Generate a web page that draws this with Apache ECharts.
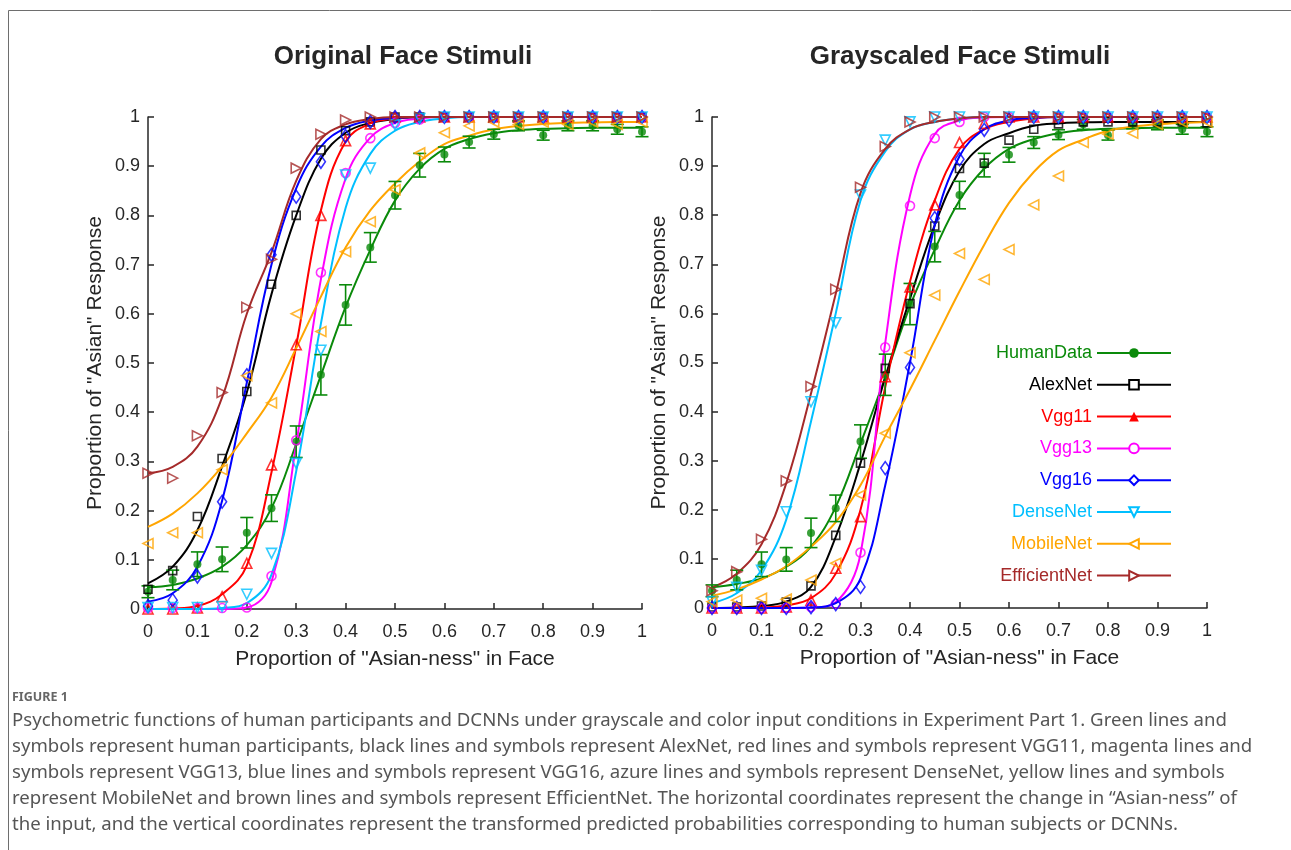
<!DOCTYPE html>
<html>
<head>
<meta charset="utf-8">
<script src="https://cdn.jsdelivr.net/npm/echarts@6/dist/echarts.min.js"></script>
<style>
html,body{margin:0;padding:0;background:#fff;}
#chart{width:1291px;height:850px;}
</style>
</head>
<body>
<div id="chart"></div>
<script>
// ---------- DATA ----------
const xs = [0,0.05,0.1,0.15,0.2,0.25,0.3,0.35,0.4,0.45,0.5,0.55,0.6,0.65,0.7,0.75,0.8,0.85,0.9,0.95,1];
const panelTitles = ['Original Face Stimuli', 'Grayscaled Face Stimuli'];
const modelNames = ['HumanData','AlexNet','Vgg11','Vgg13','Vgg16','DenseNet','MobileNet','EfficientNet'];

const humanL     = [0.035,0.059,0.091,0.101,0.155,0.205,0.34,0.476,0.618,0.735,0.841,0.902,0.924,0.949,0.965,0.982,0.963,0.982,0.982,0.975,0.97];
const humanErrL  = [0.012,0.02,0.025,0.025,0.031,0.027,0.032,0.041,0.041,0.03,0.028,0.024,0.015,0.012,0.01,0.01,0.01,0.01,0.01,0.01,0.01];
const humanFitL  = [0.044,0.049,0.062,0.086,0.13,0.205,0.335,0.475,0.614,0.73,0.83,0.895,0.935,0.955,0.967,0.973,0.976,0.977,0.978,0.978,0.978];
const alexL      = [0.04,0.078,0.188,0.306,0.442,0.66,0.80,0.933,0.972,0.99,1,1,1,1,1,1,1,1,1,1,1];
const alexFitL   = [0.052,0.086,0.16,0.29,0.44,0.64,0.80,0.915,0.968,0.988,0.996,1,1,1,1,1,1,1,1,1,1];
const vgg11L     = [0,0,0.002,0.025,0.093,0.293,0.537,0.80,0.952,0.986,1,1,1,1,1,1,1,1,1,1,1];
const vgg11FitL  = [0,0.001,0.006,0.03,0.088,0.278,0.535,0.81,0.95,0.987,0.997,1,1,1,1,1,1,1,1,1,1];
const vgg13L     = [0.002,0.002,0.002,0.002,0.003,0.067,0.343,0.684,0.886,0.957,0.988,0.995,1,1,1,1,1,1,1,1,1];
const vgg13FitL  = [0,0,0,0,0.003,0.055,0.335,0.67,0.875,0.958,0.988,0.997,1,1,1,1,1,1,1,1,1];
const vgg16L     = [0.006,0.018,0.066,0.218,0.475,0.72,0.838,0.909,0.961,0.99,1,1,1,1,1,1,1,1,1,1,1];
const vgg16FitL  = [0.015,0.032,0.086,0.22,0.46,0.70,0.855,0.94,0.978,0.993,0.998,1,1,1,1,1,1,1,1,1,1];
const denseL     = [0.003,0.003,0.003,0.005,0.03,0.113,0.296,0.526,0.882,0.896,0.984,0.997,1,1,1,1,1,1,1,1,1];
const denseFitL  = [0,0,0,0.002,0.012,0.07,0.28,0.58,0.815,0.925,0.972,0.99,0.997,1,1,1,1,1,1,1,1];
const mobileL    = [0.133,0.155,0.155,0.283,0.474,0.419,0.60,0.564,0.726,0.787,0.852,0.927,0.968,0.982,0.99,0.985,0.99,0.985,0.99,0.985,0.99];
const mobileFitL = [0.167,0.194,0.235,0.29,0.357,0.43,0.53,0.635,0.735,0.81,0.865,0.91,0.945,0.962,0.975,0.982,0.986,0.988,0.989,0.99,0.99];
const effL       = [0.276,0.266,0.352,0.44,0.613,0.711,0.896,0.965,0.994,1,1,1,1,1,1,1,1,1,1,1,1];
const effFitL    = [0.276,0.289,0.33,0.43,0.60,0.725,0.87,0.955,0.985,0.996,1,1,1,1,1,1,1,1,1,1,1];

// Right panel: Grayscaled face stimuli
const humanR     = [0.035,0.057,0.089,0.099,0.153,0.203,0.339,0.475,0.619,0.736,0.841,0.902,0.923,0.948,0.964,0.985,0.963,0.986,0.984,0.975,0.97];
const humanErrR  = [0.012,0.02,0.025,0.024,0.03,0.027,0.034,0.042,0.042,0.031,0.028,0.024,0.015,0.012,0.01,0.01,0.01,0.01,0.01,0.01,0.01];
const humanFitR  = [0.042,0.049,0.06,0.084,0.125,0.206,0.335,0.47,0.615,0.73,0.83,0.895,0.935,0.955,0.967,0.973,0.976,0.977,0.978,0.978,0.978];
const alexR      = [0.002,0.002,0.004,0.012,0.045,0.148,0.295,0.488,0.62,0.778,0.895,0.906,0.953,0.975,0.986,0.99,0.99,0.99,0.99,0.99,0.988];
const alexFitR   = [0,0.001,0.004,0.013,0.043,0.145,0.295,0.47,0.63,0.78,0.89,0.945,0.967,0.982,0.987,0.989,0.99,0.99,0.99,0.99,0.99];
const vgg11R     = [0,0,0,0.002,0.016,0.081,0.186,0.471,0.654,0.821,0.948,0.987,1,1,1,1,1,1,1,1,1];
const vgg11FitR  = [0,0,0.001,0.005,0.02,0.07,0.2,0.45,0.665,0.83,0.935,0.975,0.99,0.997,1,1,1,1,1,1,1];
const vgg13R     = [0,0,0,0,0.002,0.008,0.113,0.531,0.819,0.957,0.99,1,1,1,1,1,1,1,1,1,1];
const vgg13FitR  = [0,0,0,0,0.001,0.012,0.11,0.54,0.84,0.965,0.993,0.999,1,1,1,1,1,1,1,1,1];
const vgg16R     = [0,0,0,0,0.002,0.008,0.043,0.285,0.49,0.794,0.914,0.974,0.994,1,1,1,1,1,1,1,1];
const vgg16FitR  = [0,0,0,0,0.001,0.01,0.06,0.25,0.5,0.78,0.92,0.975,0.993,0.998,1,1,1,1,1,1,1];
const denseR     = [0.013,0.042,0.077,0.196,0.42,0.581,0.841,0.953,0.99,1,1,1,1,1,1,1,1,1,1,1,1];
const denseFitR  = [0.01,0.03,0.077,0.18,0.38,0.60,0.83,0.93,0.975,0.99,0.997,1,1,1,1,1,1,1,1,1,1];
const mobileR    = [0.013,0.016,0.02,0.018,0.057,0.091,0.23,0.356,0.52,0.637,0.722,0.669,0.73,0.821,0.88,0.948,0.965,0.967,0.985,0.99,0.99];
const mobileFitR = [0.025,0.038,0.058,0.085,0.125,0.175,0.25,0.35,0.445,0.545,0.645,0.74,0.825,0.888,0.932,0.954,0.972,0.98,0.985,0.988,0.99];
const effR       = [0.035,0.074,0.14,0.259,0.451,0.649,0.857,0.94,0.99,1,1,1,1,1,1,1,1,1,1,1,1];
const effFitR    = [0.042,0.07,0.13,0.254,0.437,0.64,0.845,0.935,0.975,0.99,0.997,1,1,1,1,1,1,1,1,1,1];

const captionHead = 'FIGURE 1';
const captionLines = [
  'Psychometric functions of human participants and DCNNs under grayscale and color input conditions in Experiment Part 1. Green lines and',
  'symbols represent human participants, black lines and symbols represent AlexNet, red lines and symbols represent VGG11, magenta lines and',
  'symbols represent VGG13, blue lines and symbols represent VGG16, azure lines and symbols represent DenseNet, yellow lines and symbols',
  'represent MobileNet and brown lines and symbols represent EfficientNet. The horizontal coordinates represent the change in \u201cAsian-ness\u201d of',
  'the input, and the vertical coordinates represent the transformed predicted probabilities corresponding to human subjects or DCNNs.'
];

// ---------- STYLE ----------
const FONT = 'Liberation Sans, Arial, Helvetica, sans-serif';
const CAPFONT = '"Noto Sans", "Open Sans", sans-serif';
const AX = '#262626';
const styles = {
  HumanData:    {color:'#0a8a0a', sym:'circle',   legSym:'circle',        rot:0,   size:8,  filled:true},
  AlexNet:      {color:'#000000', sym:'rect',     legSym:'emptyRect',     rot:0,   size:8},
  Vgg11:        {color:'#ff0000', sym:'triangle', legSym:'triangle',      rot:0,   size:10},
  Vgg13:        {color:'#ff00ff', sym:'circle',   legSym:'emptyCircle',   rot:0,   size:9},
  Vgg16:        {color:'#0000ff', sym:'diamond',  legSym:'emptyDiamond',  rot:0,   size:[9,13]},
  DenseNet:     {color:'#00bfff', sym:'triangle', legSym:'emptyTriangle', rot:180, size:10},
  MobileNet:    {color:'#ffa500', sym:'triangle', legSym:'emptyTriangle', rot:90,  size:10},
  EfficientNet: {color:'#a52a2a', sym:'triangle', legSym:'emptyTriangle', rot:-90, size:10}
};
const panels = [
  {HumanData:[humanL,humanFitL], AlexNet:[alexL,alexFitL], Vgg11:[vgg11L,vgg11FitL], Vgg13:[vgg13L,vgg13FitL],
   Vgg16:[vgg16L,vgg16FitL], DenseNet:[denseL,denseFitL], MobileNet:[mobileL,mobileFitL], EfficientNet:[effL,effFitL], err:humanErrL},
  {HumanData:[humanR,humanFitR], AlexNet:[alexR,alexFitR], Vgg11:[vgg11R,vgg11FitR], Vgg13:[vgg13R,vgg13FitR],
   Vgg16:[vgg16R,vgg16FitR], DenseNet:[denseR,denseFitR], MobileNet:[mobileR,mobileFitR], EfficientNet:[effR,effFitR], err:humanErrR}
];

const series = [];
modelNames.forEach(function(name){
  const st = styles[name];
  panels.forEach(function(p, pi){
    const pts = p[name][0], fit = p[name][1];
    series.push({
      name: name, type:'line', xAxisIndex:pi, yAxisIndex:pi,
      data: xs.map(function(x,i){return [x, fit[i]];}),
      smooth:0.4, showSymbol:false,
      symbol: st.legSym, symbolRotate: st.rot,
      lineStyle:{color:st.color, width:2}, itemStyle:{color:st.color},
      clip:false, silent:true, z:2
    });
    if (name === 'HumanData') {
      const err = p.err;
      series.push({
        name:'HumanData error', type:'custom', xAxisIndex:pi, yAxisIndex:pi,
        data: xs.map(function(x,i){return [x, pts[i]-err[i], pts[i]+err[i]];}),
        encode:{x:0, y:[1,2]}, silent:true, z:3, clip:false,
        renderItem: function(params, api){
          const a = api.coord([api.value(0), api.value(1)]);
          const b = api.coord([api.value(0), api.value(2)]);
          const w = 6.5;
          const s = {stroke:st.color, lineWidth:1.6};
          return {type:'group', children:[
            {type:'line', shape:{x1:a[0],y1:a[1],x2:b[0],y2:b[1]}, style:s},
            {type:'line', shape:{x1:a[0]-w,y1:a[1],x2:a[0]+w,y2:a[1]}, style:s},
            {type:'line', shape:{x1:b[0]-w,y1:b[1],x2:b[0]+w,y2:b[1]}, style:s}
          ]};
        }
      });
    }
    series.push({
      name: name, type:'scatter', xAxisIndex:pi, yAxisIndex:pi,
      data: xs.map(function(x,i){return [x, pts[i]];}),
      symbol: st.sym, symbolRotate: st.rot, symbolSize: st.size,
      itemStyle: st.filled ? {color:st.color} : {color:'rgba(255,255,255,0)', borderColor:st.color, borderWidth:1.6},
      clip:false, silent:true, z:4
    });
  });
});

function xAxisCfg(gi){
  return {
    gridIndex:gi, type:'value', min:0, max:1, interval:0.1,
    name:'Proportion of "Asian-ness" in Face', nameLocation:'middle', nameGap:40,
    nameTextStyle:{fontSize:21, color:AX, fontFamily:FONT},
    axisLine:{show:true, lineStyle:{color:AX, width:1.5}},
    axisTick:{show:true, inside:true, length:6, lineStyle:{color:AX, width:1.5}},
    axisLabel:{fontSize:18, color:AX, fontFamily:FONT, margin:14,
      formatter:function(v){return String(Math.round(v*10)/10);}},
    splitLine:{show:false}
  };
}
function yAxisCfg(gi){
  return {
    gridIndex:gi, type:'value', min:0, max:1, interval:0.1,
    name:'Proportion of "Asian" Response', nameLocation:'middle', nameGap:42,
    nameTextStyle:{fontSize:21, color:AX, fontFamily:FONT},
    axisLine:{show:true, lineStyle:{color:AX, width:1.5}},
    axisTick:{show:true, inside:true, length:6, lineStyle:{color:AX, width:1.5}},
    axisLabel:{fontSize:18, color:AX, fontFamily:FONT, margin:8,
      formatter:function(v){return String(Math.round(v*10)/10);}},
    splitLine:{show:false}
  };
}

const graphic = [
  {type:'rect', shape:{x:8.5, y:10.5, width:1400, height:1000}, style:{fill:'none', stroke:'#6e6e6e', lineWidth:1}, silent:true},
  {type:'text', x:403, y:57, style:{text:panelTitles[0], fill:AX, font:'bold 26px ' + FONT, textAlign:'center', textVerticalAlign:'middle'}},
  {type:'text', x:960, y:57, style:{text:panelTitles[1], fill:AX, font:'bold 26px ' + FONT, textAlign:'center', textVerticalAlign:'middle'}},
  {type:'text', x:12, y:697, style:{text:captionHead, fill:'#666', font:'bold 12.5px ' + CAPFONT, textVerticalAlign:'middle'}}
];
captionLines.forEach(function(t, i){
  graphic.push({type:'text', x:12, y:721 + i*26, style:{text:t, fill:'#555', font:'18.6px ' + CAPFONT, textVerticalAlign:'middle'}});
});

const chart = echarts.init(document.getElementById('chart'), null, {renderer:'canvas'});
chart.setOption({
  animation:false,
  backgroundColor:'#fff',
  grid:[
    {left:148, top:117, width:494, height:492},
    {left:712, top:117, width:495, height:491}
  ],
  xAxis:[xAxisCfg(0), xAxisCfg(1)],
  yAxis:[yAxisCfg(0), yAxisCfg(1)],
  legend:{
    orient:'vertical', align:'right', right:119, top:344, padding:0,
    itemWidth:74, itemHeight:12, itemGap:13.8, selectedMode:false,
    textStyle:{fontSize:18, fontFamily:FONT},
    data: modelNames.map(function(n){return {name:n, textStyle:{color:styles[n].color}};})
  },
  graphic: graphic,
  series: series
});
</script>
</body>
</html>
